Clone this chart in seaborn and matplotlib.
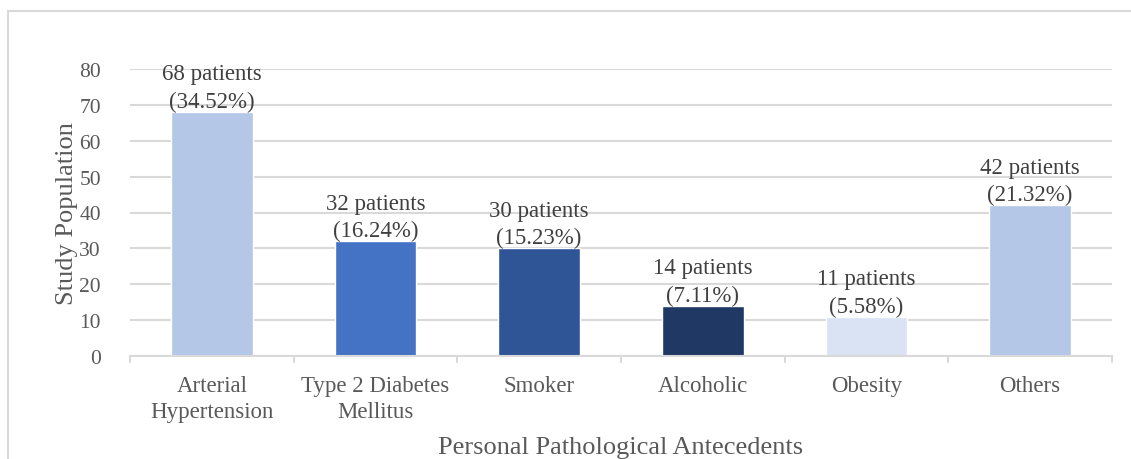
import matplotlib
matplotlib.use("Agg")
import matplotlib.pyplot as plt
import seaborn as sns
import pandas as pd
from matplotlib.patches import Rectangle

categories = ["Arterial\nHypertension", "Type 2 Diabetes\nMellitus", "Smoker",
              "Alcoholic", "Obesity", "Others"]
patients = [68, 32, 30, 14, 11, 42]
percentages = [34.52, 16.24, 15.23, 7.11, 5.58, 21.32]
bar_colors = ["#B4C7E7", "#4472C4", "#2F5597", "#203864", "#DAE3F3", "#B4C7E7"]
y_ticks = [0, 10, 20, 30, 40, 50, 60, 70, 80]

sns.set_theme(style="white")
plt.rcParams["font.family"] = ["Liberation Serif", "DejaVu Serif"]

df = pd.DataFrame({"category": categories, "patients": patients})

fig = plt.figure(figsize=(11.31, 4.6), dpi=100)
# outer chart frame
fig.patches.append(Rectangle((8 / 1131, -0.05), 1.2, 1 - 12 / 460 + 0.05,
                             transform=fig.transFigure, fill=False,
                             edgecolor="#D9D9D9", linewidth=1.5, zorder=0))

ax = fig.add_axes([130 / 1131, 1 - 357 / 460, (1112 - 130) / 1131, (357 - 70) / 460])
sns.barplot(data=df, x="category", y="patients", hue="category",
            palette=bar_colors, width=0.5, legend=False, ax=ax, saturation=1)

ax.set_ylim(0, 80)
ax.set_xlim(-0.5, len(categories) - 0.5)
ax.set_yticks(y_ticks)
ax.yaxis.grid(True, color="#D9D9D9", linewidth=1.5)
ax.set_axisbelow(True)
for side in ["top", "right", "left"]:
    ax.spines[side].set_visible(False)
ax.spines["bottom"].set_color("#D9D9D9")
ax.spines["bottom"].set_linewidth(1.5)

tick_color = "#595959"
ax.tick_params(axis="y", length=0, labelsize=15.5, labelcolor=tick_color, pad=21)
ax.tick_params(axis="x", length=0, labelsize=16.5, labelcolor=tick_color, pad=14)
for lbl in ax.get_xticklabels():
    lbl.set_linespacing(1.3)
# category separator ticks below the axis
for b in range(len(categories) + 1):
    ax.plot([b - 0.5, b - 0.5], [0, -1.8], color="#D9D9D9", lw=1.5,
            clip_on=False, transform=ax.transData)

ax.set_xlabel("Personal Pathological Antecedents", fontsize=19,
              color=tick_color, labelpad=10)
ax.set_ylabel("Study Population", fontsize=19, color=tick_color, labelpad=1)

for i, (n, p) in enumerate(zip(patients, percentages)):
    ax.annotate(f"{n} patients\n({p:.2f}%)", xy=(i, n), xytext=(0, 0),
                textcoords="offset points", ha="center", va="bottom",
                fontsize=16.5, color="#404040", linespacing=1.4)

fig.savefig("out.png", dpi=100)
